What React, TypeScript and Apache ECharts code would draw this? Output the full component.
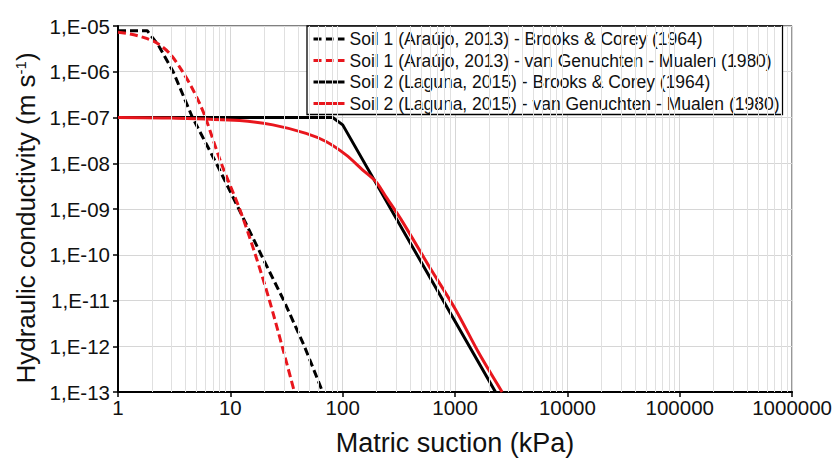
import React, { useEffect, useRef } from "react";
import * as echarts from "echarts";

const FONT = '"Liberation Sans", Arial, Helvetica, sans-serif';

// Legend names
const seriesNames = [
  "Soil 1 (Araújo, 2013) - Brooks & Corey (1964)",
  "Soil 1 (Araújo, 2013) - van Genuchten - Mualen (1980)",
  "Soil 2 (Laguna, 2015) - Brooks & Corey (1964)",
  "Soil 2 (Laguna, 2015) - van Genuchten - Mualen (1980)",
];

// [matric suction (kPa), hydraulic conductivity (m/s)]
const soil1BrooksCorey: [number, number][] = [
  [1, 7.9e-6], [1.82, 7.9e-6], [2.28, 3.85e-6], [3.1, 1.0e-6], [4.6, 1.0e-7],
  [7.5, 1e-8], [11.9, 1e-9], [18.8, 1e-10], [29.9, 1e-11], [45.6, 1e-12], [66.3, 1e-13],
];
const soil1VanGenuchten: [number, number][] = [
  [1, 7.3e-6], [1.28, 6.7e-6], [1.68, 5.65e-6], [2.2, 4.3e-6], [2.89, 2.5e-6],
  [3.67, 1.1e-6], [4.5, 4.7e-7], [5.34, 2.0e-7], [6.0, 1e-7], [8.3, 1e-8],
  [12.1, 1e-9], [16.7, 1e-10], [22.3, 1e-11], [28.9, 1e-12], [37.2, 1e-13],
];
const soil2BrooksCorey: [number, number][] = [
  [1, 1e-7], [81.5, 1e-7], [100, 6.9e-8], [2290, 1e-13],
];
const soil2VanGenuchten: [number, number][] = [
  [1, 1.0e-7], [3, 9.7e-8], [12.1, 8.55e-8], [23.9, 6.9e-8], [47.2, 4.5e-8],
  [71, 2.98e-8], [107, 1.52e-8], [150, 7.2e-9], [197, 4.0e-9], [242, 1.87e-9],
  [340, 5.3e-10], [587, 5.6e-11], [1012, 6.3e-12], [1629, 7.1e-13], [2624, 1e-13],
];

// Minor vertical grid lines (2..9 in each decade)
const minorMultipliers = [2, 3, 4, 5, 6, 7, 8, 9];
const decades = [1, 10, 100, 1000, 10000, 100000];

const X_MIN = 1;
const X_MAX = 1000000;
const Y_MIN = 1e-13;
const Y_MAX = 1e-5;

const BLACK = "#000000";
const RED = "#e8161d";

export default function App() {
  const ref = useRef<HTMLDivElement>(null);
  useEffect(() => {
    const chart = echarts.init(ref.current!, null, { renderer: "svg" });
    const minorX: number[] = [];
    decades.forEach((d) => minorMultipliers.forEach((m) => minorX.push(d * m)));

    const lineSeries = (name: string, data: [number, number][], color: string, dashed: boolean, smooth: boolean) => ({
      name,
      type: "line",
      data,
      symbol: "none",
      smooth: smooth ? 0.3 : false,
      lineStyle: { color, width: 3, type: dashed ? [8, 4] : "solid" },
      itemStyle: { color },
      z: 3,
      silent: true,
    });

    chart.setOption({
      animation: false,
      backgroundColor: "#ffffff",
      textStyle: { fontFamily: FONT },
      grid: {
        left: 118,
        right: 41,
        top: 26,
        bottom: 70,
        show: true,
        borderColor: "#000",
        borderWidth: 1,
        backgroundColor: "#ffffff",
      },
      legend: {
        show: true,
        orient: "vertical",
        left: 307,
        top: 26,
        padding: [4, 3, 2, 5],
        itemWidth: 31,
        itemHeight: 14,
        itemGap: 3.5,
        backgroundColor: "#ffffff",
        borderColor: "#000",
        borderWidth: 1.3,
        borderRadius: 0,
        itemStyle: { opacity: 0, borderWidth: 0 },
        lineStyle: { width: 3 },
        textStyle: { fontSize: 17.5, color: "#111", fontFamily: FONT },
        data: seriesNames,
      },
      xAxis: {
        type: "log",
        logBase: 10,
        min: X_MIN,
        max: X_MAX,
        name: "Matric suction (kPa)",
        nameLocation: "middle",
        nameGap: 37,
        nameTextStyle: { fontSize: 27, color: "#111", fontFamily: FONT },
        axisLine: { show: true, lineStyle: { color: "#000", width: 2 } },
        axisTick: { show: true, length: 5, lineStyle: { color: "#000", width: 1.5 } },
        axisLabel: {
          fontSize: 20.5,
          color: "#111",
          margin: 5,
          fontFamily: FONT,
          formatter: (v: number) => String(Math.round(v)),
        },
        splitLine: { show: true, lineStyle: { color: "#d6d6d6", width: 1 } },
      },
      yAxis: {
        type: "log",
        logBase: 10,
        min: Y_MIN,
        max: Y_MAX,
        name: "Hydraulic conductivity (m s{sup|-1})",
        nameLocation: "middle",
        nameGap: 79,
        nameRotate: 90,
        nameTextStyle: {
          fontSize: 26,
          color: "#111",
          fontFamily: FONT,
          padding: [0, 18, 0, 0],
          rich: {
            sup: { fontSize: 15, verticalAlign: "top", color: "#111", fontFamily: FONT },
          },
        },
        axisLine: { show: true, lineStyle: { color: "#000", width: 2 } },
        axisTick: { show: true, length: 5, lineStyle: { color: "#000", width: 1.5 } },
        axisLabel: {
          fontSize: 20.5,
          color: "#111",
          margin: 8,
          fontFamily: FONT,
          formatter: (v: number) => {
            const e = Math.round(Math.log10(v));
            return "1,E-" + String(-e).padStart(2, "0");
          },
        },
        splitLine: { show: true, lineStyle: { color: "#d6d6d6", width: 1 } },
      },
      series: [
        {
          name: "_minorGrid",
          type: "line",
          data: [[X_MIN, Y_MIN]],
          symbol: "none",
          lineStyle: { opacity: 0 },
          silent: true,
          z: 1,
          markLine: {
            silent: true,
            symbol: ["none", "none"],
            label: { show: false },
            lineStyle: { color: "#e0e0e0", width: 1, type: "solid" },
            emphasis: { disabled: true },
            data: minorX.map((v) => ({ xAxis: v })),
          },
        },
        lineSeries(seriesNames[0], soil1BrooksCorey, BLACK, true, false),
        lineSeries(seriesNames[1], soil1VanGenuchten, RED, true, true),
        lineSeries(seriesNames[2], soil2BrooksCorey, BLACK, false, false),
        lineSeries(seriesNames[3], soil2VanGenuchten, RED, false, true),
      ],
    });
    return () => chart.dispose();
  }, []);
  return (
    <div
      ref={ref}
      style={{ position: "fixed", left: 0, top: 0, width: 835, height: 462, background: "#fff" }}
    />
  );
}
